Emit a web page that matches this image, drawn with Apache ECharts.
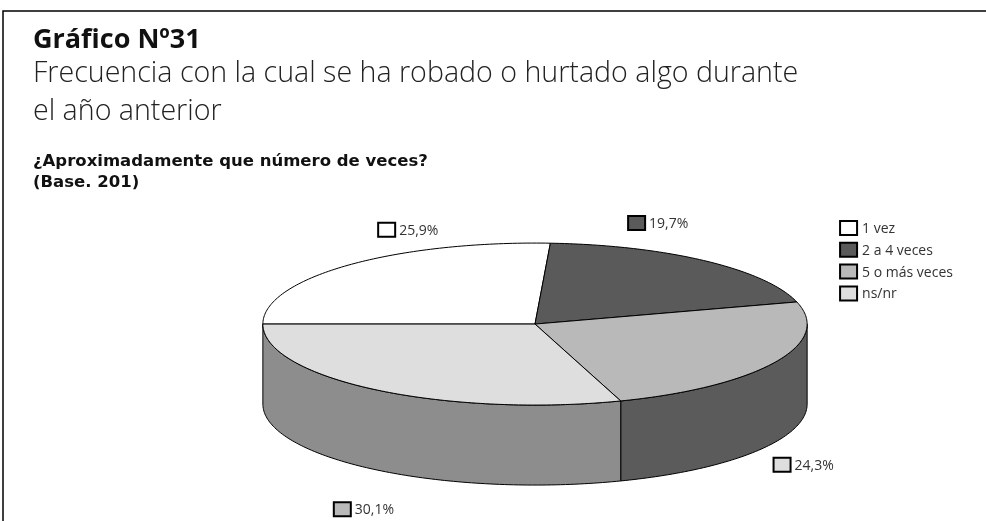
<!DOCTYPE html>
<html>
<head>
<meta charset="utf-8">
<script src="https://cdn.jsdelivr.net/npm/echarts@6/dist/echarts.min.js"></script>
<style>
  html, body { margin: 0; padding: 0; background: #fff; }
  #chart { width: 986px; height: 521px; }
</style>
</head>
<body>
<div id="chart"></div>
<script>
// datos del gráfico
var categories = ['1 vez', '2 a 4 veces', '5 o más veces', 'ns/nr'];
var values = [25.9, 19.7, 24.3, 30.1];
var labelTexts = ['25,9%', '19,7%', '24,3%', '30,1%'];

// colores (cara superior, lateral, recuadro de la etiqueta)
var topColors = ['#ffffff', '#5a5a5a', '#b9b9b9', '#dedede'];
var sideColors = ['#cfcfcf', '#3c3c3c', '#5b5b5b', '#8d8d8d'];
var keyColors = ['#ffffff', '#5a5a5a', '#dedede', '#b9b9b9'];

var FONT = '"Open Sans", "Liberation Sans", sans-serif';

// ángulos acumulados (grados, sentido horario desde las 12)
var startAngle = 270;
var total = values.reduce(function (a, b) { return a + b; }, 0);
var angles = [];
var acc = startAngle;
values.forEach(function (v) {
    var span = v / total * 360;
    angles.push([acc, acc + span]);
    acc += span;
});

var chart = echarts.init(document.getElementById('chart'));

function renderSlice(params, api) {
    var i = params.dataIndex;
    var W = api.getWidth(), H = api.getHeight();
    var cx = W * 0.5426, cy = H * 0.622;
    var rx = W * 0.276, ry = 81, depth = 80;

    function pt(deg, dy) {
        var t = deg * Math.PI / 180;
        return [cx + rx * Math.sin(t), cy - ry * Math.cos(t) + (dy || 0)];
    }
    function arc(a0, a1, dy) {
        var pts = [];
        var n = Math.max(2, Math.ceil(Math.abs(a1 - a0)));
        for (var k = 0; k <= n; k++) {
            pts.push(pt(a0 + (a1 - a0) * k / n, dy));
        }
        return pts;
    }

    var a0 = angles[i][0], a1 = angles[i][1];
    var children = [];

    // lateral visible (parte frontal: 90..270 grados)
    [[90, 270], [450, 630]].forEach(function (r) {
        var s = Math.max(a0, r[0]), e = Math.min(a1, r[1]);
        if (e > s) {
            var pts = arc(s, e, 0).concat(arc(e, s, depth));
            children.push({
                type: 'polygon',
                shape: { points: pts },
                style: { fill: sideColors[i], stroke: '#000', lineWidth: 1 }
            });
        }
    });

    // cara superior
    var top = [[cx, cy]].concat(arc(a0, a1, 0));
    children.push({
        type: 'polygon',
        shape: { points: top },
        style: { fill: topColors[i], stroke: '#000', lineWidth: 1 }
    });

    // etiqueta de porcentaje (las de delante van más afuera)
    var mid = (a0 + a1) / 2;
    var mt = mid * Math.PI / 180;
    var front = Math.cos(mt) < 0;
    var lx = cx + rx * (front ? 1.1 : 0.7) * Math.sin(mt);
    var ly = cy - ry * 1.6 * Math.cos(mt) + (front ? depth : 0);
    children.push({
        type: 'rect',
        shape: { x: lx - 26, y: ly - 7, width: 17, height: 14 },
        style: { fill: keyColors[i], stroke: '#000', lineWidth: 2 }
    });
    children.push({
        type: 'text',
        style: {
            x: lx - 5, y: ly + 1, text: labelTexts[i],
            fill: '#333', font: '14px ' + FONT, verticalAlign: 'middle'
        }
    });

    // leyenda
    var legX = W * 0.852, legY = 221 + i * 21.8;
    children.push({
        type: 'rect',
        shape: { x: legX, y: legY, width: 17, height: 14 },
        style: { fill: topColors[i], stroke: '#000', lineWidth: 2 }
    });
    children.push({
        type: 'text',
        style: {
            x: legX + 22, y: legY + 8, text: categories[i],
            fill: '#333', font: '14px ' + FONT, verticalAlign: 'middle'
        }
    });

    return { type: 'group', children: children };
}

var option = {
    backgroundColor: '#fff',
    animation: false,
    graphic: [
        {
            type: 'polyline',
            shape: { points: [[3, 530], [3, 11], [990, 11]] },
            style: { stroke: '#000', lineWidth: 1.5, fill: null }
        },
        {
            type: 'text', left: 33, top: 27,
            style: { text: 'Gráfico Nº31', font: 'bold 27px ' + FONT, fill: '#111' }
        },
        {
            type: 'text', left: 33, top: 55,
            style: {
                text: 'Frecuencia con la cual se ha robado o hurtado algo durante\nel año anterior',
                font: '300 28.6px ' + FONT, fill: '#222', lineHeight: 38
            }
        },
        {
            type: 'text', left: 33, top: 151,
            style: {
                text: '¿Aproximadamente que número de veces?\n(Base. 201)',
                font: 'bold 16.5px "DejaVu Sans", sans-serif', fill: '#111', lineHeight: 21
            }
        }
    ],
    series: [
        {
            type: 'custom',
            coordinateSystem: 'none',
            renderItem: renderSlice,
            data: values.map(function (v, i) { return { name: categories[i], value: v }; })
        }
    ]
};

chart.setOption(option);

window.addEventListener('resize', function () {
    chart.resize();
});
</script>
</body>
</html>
